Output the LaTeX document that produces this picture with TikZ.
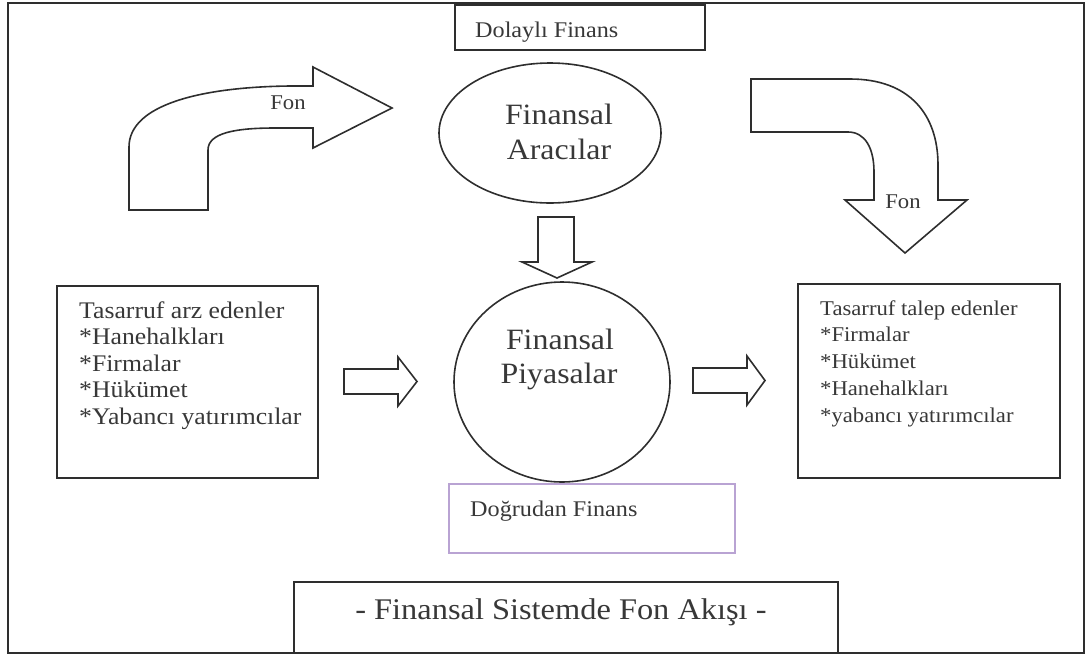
\documentclass[tikz,border=0pt]{standalone}
\usepackage{fontspec}
\setmainfont{Liberation Serif}[FakeStretch=1.08]
\usetikzlibrary{shapes.geometric}
\definecolor{inkc}{HTML}{2E2E2E}
\definecolor{txtc}{HTML}{383838}
\definecolor{lilac}{HTML}{B9A3D3}
\begin{document}
\begin{tikzpicture}[x=1pt,y=-1pt,line join=miter,
  ink/.style={draw=inkc,line width=1.6pt},
  frame/.style={draw=inkc,line width=2.2pt},
  lbl/.style={text=txtc,inner sep=0pt,anchor=base west,font=\fontsize{21}{26}\selectfont},
  midlbl/.style={text=txtc,inner sep=0pt,anchor=base,font=\fontsize{21}{26}\selectfont},
  biglbl/.style={text=txtc,inner sep=0pt,anchor=base,font=\fontsize{29.5}{34}\selectfont},
  titlelbl/.style={text=txtc,inner sep=0pt,anchor=base,font=\fontsize{30}{34}\selectfont},
  blank/.style={inner sep=0pt,outer sep=0pt}]
\useasboundingbox (0,0) rectangle (1087,657);

% outer frame
\draw[frame] (8,3) rectangle (1084,653);

% boxes
\node[blank,ink,fill=white,minimum width=250pt,minimum height=45pt] (dolayli) at (580,27.5) {};
\node[lbl,font=\fontsize{22.4}{26}\selectfont] (dolayliT) at (475,37) {Dolaylı Finans};

\node[blank,ink,minimum width=261pt,minimum height=192pt] (arz) at (187.5,382) {};
\node[blank,ink,minimum width=262pt,minimum height=194pt] (talep) at (929,381) {};
\node[blank,draw=lilac,line width=1.6pt,minimum width=286pt,minimum height=69pt] (dogrudan) at (592,518.5) {};
\node[lbl,font=\fontsize{22.4}{26}\selectfont] (dogrudanT) at (470,516) {Doğrudan Finans};
\node[blank,ink,minimum width=544pt,minimum height=71pt] (baslik) at (566,617.5) {};
\node[titlelbl] (baslikT) at (561,619) {- Finansal Sistemde Fon Akışı -};

% lists in the side boxes
\foreach \t [count=\i] in {Tasarruf arz edenler,*Hanehalkları,*Firmalar,*Hükümet,*Yabancı yatırımcılar}
  \node[lbl,font=\fontsize{23.8}{26}\selectfont] (arz\i) at (79,{318+26.5*(\i-1)}) {\t};
\foreach \t [count=\i] in {Tasarruf talep edenler,*Firmalar,*Hükümet,*Hanehalkları,*yabancı yatırımcılar}
  \node[lbl] (talep\i) at (820,{315+26.75*(\i-1)}) {\t};

% intermediaries and markets
\node[blank,ink,ellipse,minimum width=222pt,minimum height=140pt] (aracilar) at (550,133) {};
\node[biglbl] (aracilar1) at (559,124) {Finansal};
\node[biglbl] (aracilar2) at (559,159) {Aracılar};
\node[blank,ink,ellipse,minimum width=216pt,minimum height=200pt] (piyasalar) at (562,382) {};
\node[biglbl] (piyasalar1) at (560,349) {Finansal};
\node[biglbl] (piyasalar2) at (559,383) {Piyasalar};

% block arrows
\draw[ink] (538,217) -- (574,217) -- (574,262) -- (592,262) -- (557,278) -- (522,262) -- (538,262) -- cycle;
\draw[ink] (344,369) -- (398,369) -- (398,357) -- (417,381.5) -- (398,406) -- (398,394) -- (344,394) -- cycle;
\draw[ink] (693,368) -- (747,368) -- (747,356) -- (765,380.5) -- (747,405) -- (747,393) -- (693,393) -- cycle;

% curved fund-flow arrows
\draw[ink] (129,210) -- (129,147) .. controls (129,105) and (200,87) .. (290,86) -- (313,86)
  -- (313,67) -- (392,108) -- (313,148) -- (313,128) -- (275,128)
  .. controls (235,128) and (208,133) .. (208,150) -- (208,210) -- cycle;
\node[midlbl] (fon1) at (288,109) {Fon};
\draw[ink] (751,79) -- (850,79) .. controls (910,79) and (938,115) .. (938,165) -- (938,200)
  -- (967,200) -- (905,253) -- (845,200) -- (874,200) -- (874,172)
  .. controls (874,148) and (865,132) .. (848,132) -- (751,132) -- cycle;
\node[midlbl] (fon2) at (903,208) {Fon};
\end{tikzpicture}
\end{document}
